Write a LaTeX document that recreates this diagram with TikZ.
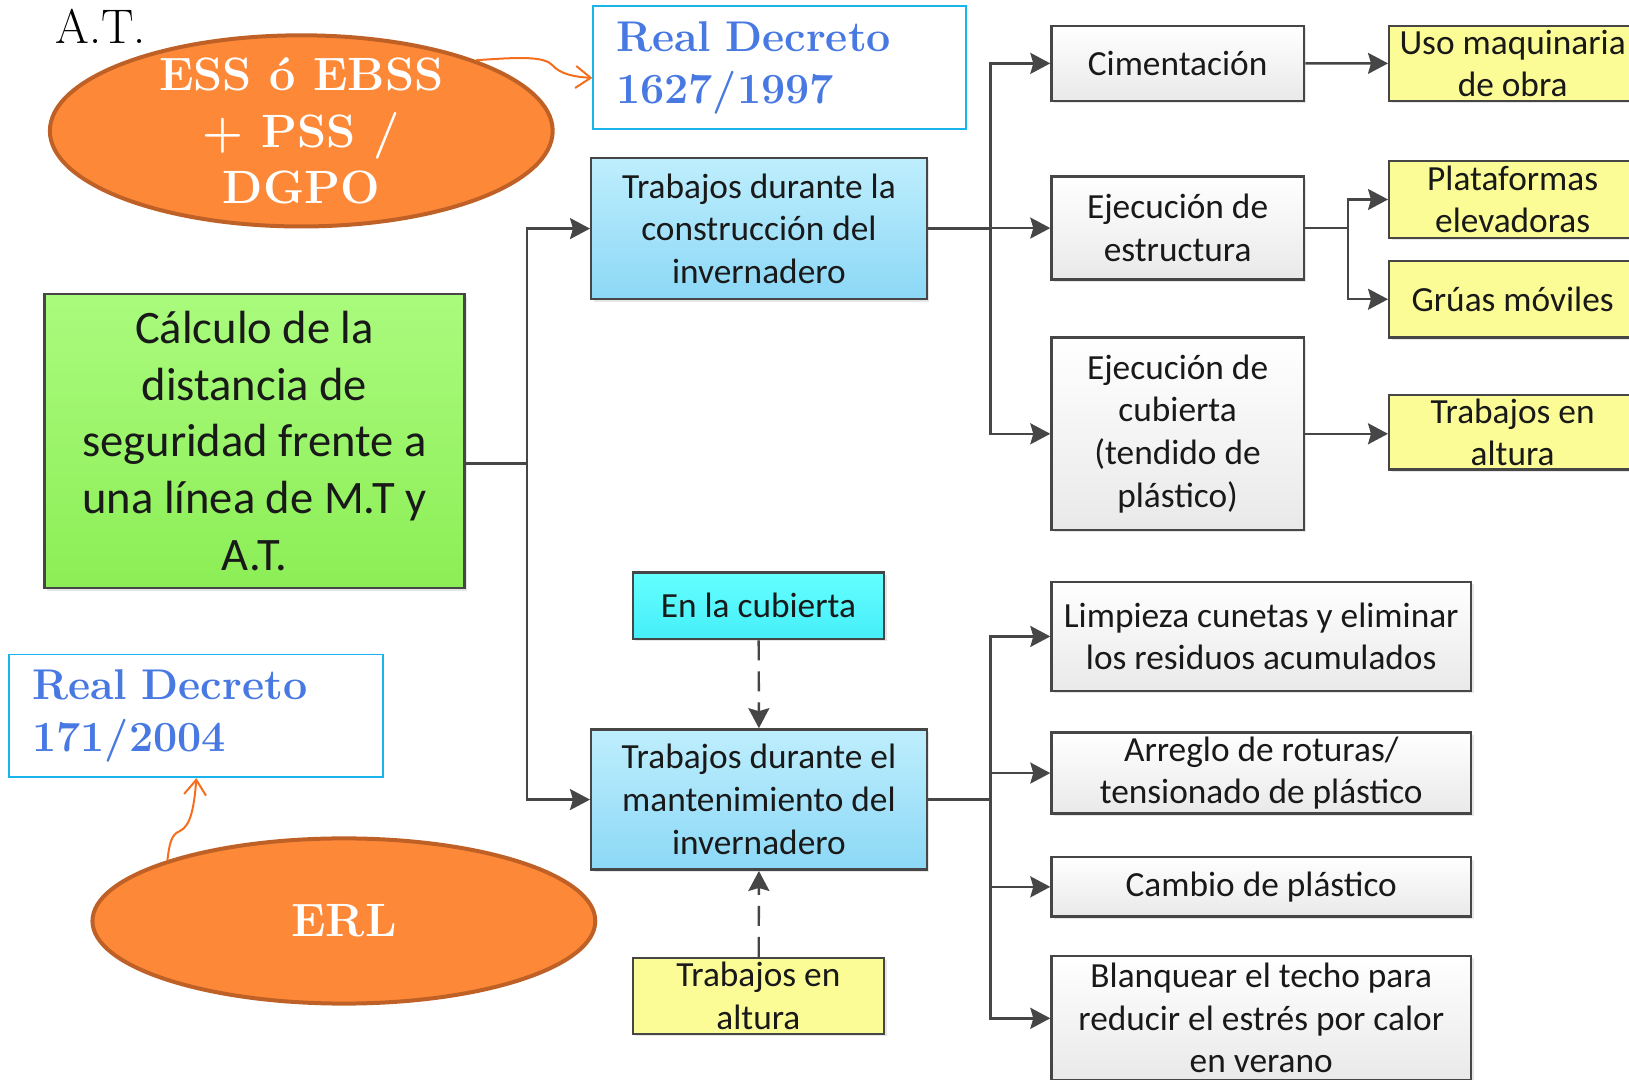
\documentclass[tikz,border=0pt]{standalone}
\usepackage{fontspec}
\newfontfamily\carlito{Carlito}
\usetikzlibrary{arrows.meta,shapes.geometric,shadows}

\definecolor{boxln}{RGB}{70,70,70}
\definecolor{txt}{RGB}{25,25,25}
\definecolor{greyB}{RGB}{233,233,233}
\definecolor{blueA}{RGB}{190,238,253}
\definecolor{blueB}{RGB}{140,216,246}
\definecolor{cyanA}{RGB}{100,255,255}
\definecolor{cyanB}{RGB}{70,238,248}
\definecolor{yel}{RGB}{252,252,150}
\definecolor{grnA}{RGB}{170,251,125}
\definecolor{grnB}{RGB}{140,238,86}
\definecolor{orF}{RGB}{253,137,56}
\definecolor{orL}{RGB}{191,97,38}
\definecolor{orA}{RGB}{245,110,30}
\definecolor{rdln}{RGB}{25,180,235}
\definecolor{rdtxt}{RGB}{72,120,226}

\begin{document}
\begin{tikzpicture}[
	x=1pt,y=-1pt,scale=1.0389,
	every node/.style={transform shape},
	box/.style={draw=boxln,line width=2.4pt,inner sep=0pt,align=center,text=txt,
		font=\carlito\fontsize{34}{41}\selectfont,
		drop shadow={shadow xshift=2.5pt,shadow yshift=-2.5pt,opacity=.2}},
	graybox/.style={box,top color=white,bottom color=greyB},
	bluebox/.style={box,top color=blueA,bottom color=blueB},
	cyanbox/.style={box,top color=cyanA,bottom color=cyanB},
	yellowbox/.style={box,fill=yel},
	greenbox/.style={box,top color=grnA,bottom color=grnB,font=\carlito\fontsize{44.8}{54.6}\selectfont},
	rdbox/.style={draw=rdln,line width=1.8pt,fill=white,align=left,inner xsep=22,
		text=rdtxt,font=\bfseries\fontsize{41.4}{50}\selectfont},
	oval/.style={ellipse,draw=orL,line width=4pt,fill=orF,inner sep=0pt},
	ovtxt/.style={align=center,text=white,font=\bfseries\fontsize{45}{54.5}\selectfont},
	link/.style={draw=boxln,line width=2.4pt},
	arw/.style={link,-{Stealth[length=20pt,width=21pt,inset=3pt]}},
	dlink/.style={arw,dash pattern=on 20pt off 11pt},
	oarw/.style={draw=orA,line width=2pt,-{Straight Barb[length=15pt,width=22pt]}}]
	\path[use as bounding box] (0,0) rectangle (1568,1038.6);
	\clip (0,0) rectangle (1568,1038.6);

	\node[font=\fontsize{46.8}{56}\selectfont] (at) at (97,25) {A.T.};

	\node[rdbox,minimum width=359,minimum height=118,text width=315] (rd1) at (750.5,65) {Real Decreto\\1627/1997};
	\node[rdbox,minimum width=358,minimum height=118,text width=316] (rd2) at (189,689) {Real Decreto\\171/2004};

	\node[oval,minimum width=484,minimum height=184] (ess) at (290,126) {};
	\node[ovtxt] (esstxt) at (ess.center) {ESS ó EBSS\\+ PSS /\\DGPO};
	\node[oval,minimum width=484,minimum height=159] (erl) at (331,886.5) {};
	\node[ovtxt] (erltxt) at (erl.center) {ERL};

	\node[greenbox,minimum width=404,minimum height=283] (calc) at (245,424.5) {Cálculo de la\\distancia de\\seguridad frente a\\una línea de M.T y\\A.T.};
	\node[bluebox,minimum width=323,minimum height=136] (constr) at (730.5,220) {Trabajos durante la\\construcción del\\invernadero};
	\node[bluebox,minimum width=323,minimum height=135] (mant) at (730.5,769.5) {Trabajos durante el\\mantenimiento del\\invernadero};
	\node[cyanbox,minimum width=242,minimum height=64] (encub) at (730,583) {En la cubierta};
	\node[yellowbox,minimum width=242,minimum height=73] (alt2) at (730,958.5) {Trabajos en\\altura};

	\node[graybox,minimum width=243,minimum height=72] (cim) at (1133.5,61) {Cimentación};
	\node[graybox,minimum width=243,minimum height=99] (estr) at (1133.5,219.5) {Ejecución de\\estructura};
	\node[graybox,minimum width=243,minimum height=185] (cubi) at (1133.5,417.5) {Ejecución de\\cubierta\\(tendido de\\plástico)};
	\node[graybox,minimum width=404,minimum height=105] (limp) at (1214,612.5) {Limpieza cunetas y eliminar\\los residuos acumulados};
	\node[graybox,minimum width=404,minimum height=78] (arre) at (1214,744) {Arreglo de roturas/\\tensionado de plástico};
	\node[graybox,minimum width=404,minimum height=57] (camb) at (1214,853.5) {Cambio de plástico};
	\node[graybox,minimum width=404,minimum height=120] (blanq) at (1214,980) {Blanquear el techo para\\reducir el estrés por calor\\en verano};

	\node[yellowbox,minimum width=238,minimum height=72] (maq) at (1456,61) {Uso maquinaria\\de obra};
	\node[yellowbox,minimum width=238,minimum height=74] (plat) at (1456,192) {Plataformas\\elevadoras};
	\node[yellowbox,minimum width=238,minimum height=74] (grua) at (1456,288) {Grúas móviles};
	\node[yellowbox,minimum width=238,minimum height=72] (alt1) at (1456,416) {Trabajos en\\altura};

	\draw[link] (calc.east |- 0,446) -- (507,446) coordinate (j1);
	\draw[arw] (j1) |- (constr.west);
	\draw[arw] (j1) |- (mant.west);

	\draw[link] (constr.east) -- ++(60,0) coordinate (j2);
	\draw[arw] (j2) |- (cim.west);
	\draw[arw] (j2) |- (estr.west);
	\draw[arw] (j2) |- (cubi.west);

	\draw[arw] (cim) -- (maq);
	\draw[link] (estr.east) -- ++(41,0) coordinate (j3);
	\draw[arw] (j3) |- (plat.west);
	\draw[arw] (j3) |- (grua.west);
	\draw[arw] (cubi.east) -- (cubi.east -| alt1.west);

	\draw[link] (mant.east) -- ++(60,0) coordinate (j4);
	\draw[arw] (j4) |- (limp.west);
	\draw[arw] (j4) |- (arre.west);
	\draw[arw] (j4) |- (camb.west);
	\draw[arw] (j4) |- (blanq.west);

	\draw[dlink] (encub) -- (mant);
	\draw[dlink] (alt2) -- (mant);

	\draw[oarw] (ess.22) .. controls (500,55) and (524,54) .. (532,63) .. controls (539,71) and (552,74) .. (rd1.west |- 0,75);
	\draw[oarw] (erl.161) .. controls (163,812) and (165,803) .. (173,800) .. controls (184,795) and (187,775) .. (rd2.south);
\end{tikzpicture}
\end{document}
